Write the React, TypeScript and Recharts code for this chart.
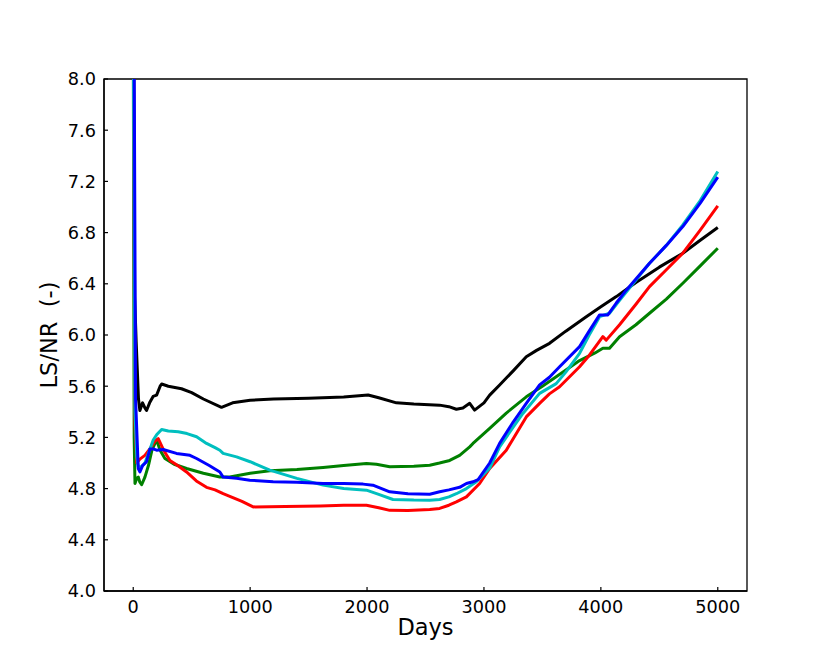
import React from 'react';
import { LineChart, Line, XAxis, YAxis, ReferenceArea, Label } from 'recharts';

const xTicks = [0, 1000, 2000, 3000, 4000, 5000];
const yTicks = [4.0, 4.4, 4.8, 5.2, 5.6, 6.0, 6.4, 6.8, 7.2, 7.6, 8.0];

const blackDays = [0, 12, 25, 45, 57, 80, 100, 114, 140, 170, 200, 230, 243, 300, 413, 500, 600, 755, 850, 1000, 1200, 1500, 1800, 2009, 2100, 2251, 2400, 2621, 2700, 2764, 2820, 2878, 2920, 3000, 3049, 3134, 3250, 3362, 3450, 3561, 3700, 3875, 4000, 4132, 4300, 4500, 4701, 4850, 5000];
const blackValues = [9, 6.3, 5.95, 5.5, 5.41, 5.47, 5.43, 5.41, 5.47, 5.52, 5.53, 5.6, 5.617, 5.6, 5.58, 5.55, 5.5, 5.435, 5.47, 5.49, 5.5, 5.505, 5.515, 5.531, 5.51, 5.47, 5.46, 5.452, 5.44, 5.42, 5.43, 5.466, 5.413, 5.47, 5.53, 5.61, 5.72, 5.83, 5.88, 5.935, 6.03, 6.143, 6.22, 6.3, 6.41, 6.53, 6.639, 6.74, 6.84];

const redDays = [0, 15, 30, 57, 100, 150, 185, 214, 260, 314, 380, 456, 540, 627, 700, 769, 826, 930, 1026, 1300, 1600, 1800, 1995, 2100, 2194, 2350, 2536, 2621, 2700, 2764, 2850, 2963, 3049, 3191, 3362, 3476, 3560, 3647, 3818, 3900, 4017, 4046, 4160, 4300, 4416, 4560, 4701, 4850, 5000];
const redValues = [8.5, 5.3, 5.0, 5.03, 5.06, 5.12, 5.17, 5.19, 5.1, 5.02, 4.98, 4.93, 4.86, 4.81, 4.79, 4.76, 4.74, 4.7, 4.657, 4.66, 4.665, 4.67, 4.67, 4.65, 4.63, 4.628, 4.636, 4.645, 4.67, 4.696, 4.735, 4.84, 4.957, 5.1, 5.36, 5.466, 5.54, 5.596, 5.752, 5.84, 5.987, 5.96, 6.08, 6.24, 6.378, 6.51, 6.639, 6.82, 7.009];

const greenDays = [0, 8, 15, 30, 43, 57, 72, 100, 130, 160, 200, 230, 271, 350, 456, 600, 741, 826, 1000, 1168, 1400, 1624, 1800, 1995, 2080, 2194, 2400, 2536, 2620, 2707, 2792, 2878, 2906, 3049, 3191, 3362, 3500, 3618, 3818, 3950, 4017, 4074, 4160, 4300, 4416, 4560, 4701, 4850, 5000];
const greenValues = [8.5, 5.2, 4.84, 4.88, 4.89, 4.85, 4.83, 4.89, 4.98, 5.1, 5.18, 5.1, 5.035, 4.99, 4.957, 4.92, 4.89, 4.89, 4.92, 4.94, 4.95, 4.965, 4.98, 4.997, 4.99, 4.97, 4.975, 4.983, 5.0, 5.02, 5.06, 5.126, 5.153, 5.27, 5.39, 5.517, 5.6, 5.674, 5.8, 5.86, 5.896, 5.896, 5.987, 6.08, 6.17, 6.28, 6.404, 6.54, 6.678];

const cyanDays = [0, 15, 30, 43, 70, 100, 140, 171, 200, 243, 300, 385, 460, 542, 627, 700, 741, 769, 884, 1000, 1168, 1400, 1624, 1800, 1995, 2100, 2222, 2400, 2536, 2621, 2700, 2764, 2850, 2935, 3049, 3134, 3250, 3333, 3476, 3618, 3700, 3818, 3900, 3989, 4074, 4160, 4300, 4416, 4560, 4701, 4850, 5000];
const cyanValues = [8.5, 5.4, 5.05, 4.97, 4.97, 5.0, 5.1, 5.18, 5.22, 5.262, 5.25, 5.244, 5.23, 5.205, 5.153, 5.12, 5.1, 5.075, 5.048, 5.01, 4.944, 4.88, 4.827, 4.8, 4.788, 4.755, 4.715, 4.71, 4.709, 4.715, 4.735, 4.76, 4.8, 4.853, 4.96, 5.126, 5.28, 5.387, 5.544, 5.62, 5.71, 5.857, 6.0, 6.143, 6.17, 6.27, 6.43, 6.56, 6.7, 6.86, 7.05, 7.277];

const blueDays = [0, 20, 43, 57, 80, 114, 143, 171, 200, 256, 370, 485, 542, 650, 741, 769, 884, 997, 1197, 1400, 1624, 1800, 1966, 2050, 2194, 2350, 2536, 2621, 2700, 2792, 2850, 2906, 2950, 3049, 3134, 3250, 3362, 3476, 3560, 3647, 3818, 3900, 3989, 4060, 4132, 4217, 4416, 4560, 4701, 4850, 5000];
const blueValues = [10, 5.5, 4.957, 4.93, 4.98, 5.01, 5.11, 5.11, 5.1, 5.105, 5.075, 5.06, 5.035, 4.98, 4.93, 4.89, 4.88, 4.866, 4.853, 4.85, 4.84, 4.84, 4.835, 4.827, 4.775, 4.76, 4.756, 4.775, 4.79, 4.81, 4.84, 4.853, 4.87, 5.0, 5.153, 5.32, 5.466, 5.61, 5.67, 5.752, 5.909, 6.03, 6.157, 6.157, 6.25, 6.35, 6.56, 6.7, 6.847, 7.03, 7.233];

const build = (days: number[], vals: number[]) => days.map((d, i) => ({ d, v: vals[i] }));

const series = [
  { name: 'black', color: '#000000', data: build(blackDays, blackValues) },
  { name: 'green', color: '#008000', data: build(greenDays, greenValues) },
  { name: 'red', color: '#ff0000', data: build(redDays, redValues) },
  { name: 'cyan', color: '#00bfbf', data: build(cyanDays, cyanValues) },
  { name: 'blue', color: '#0000ff', data: build(blueDays, blueValues) },
];

const FONT = 'DejaVu Sans';

const XTick = (props: any) => {
  const { x, y, payload } = props;
  return (
    <g>
      <line x1={x} x2={x} y1={y} y2={y - 4} stroke="#000" strokeWidth={1.2} />
      <text x={x} y={y + 22} textAnchor="middle" fontFamily={FONT} fontSize={17.7} fill="#000">
        {payload.value}
      </text>
    </g>
  );
};

const YTick = (props: any) => {
  const { x, y, payload } = props;
  return (
    <g>
      <line x1={x} x2={x + 4} y1={y} y2={y} stroke="#000" strokeWidth={1.2} />
      <text x={x - 8} y={y + 6.4} textAnchor="end" fontFamily={FONT} fontSize={17.7} fill="#000">
        {Number(payload.value).toFixed(1)}
      </text>
    </g>
  );
};

const XLabel = (props: any) => {
  const vb = props.viewBox;
  return (
    <text x={vb.x + vb.width / 2} y={vb.y + 44} textAnchor="middle" fontFamily={FONT} fontSize={22.5} fill="#000">
      Days
    </text>
  );
};

const YLabel = (props: any) => {
  const vb = props.viewBox;
  const cx = vb.x + vb.width - 55;
  const cy = vb.y + vb.height / 2;
  return (
    <text
      x={cx}
      y={cy}
      transform={`rotate(-90, ${cx}, ${cy})`}
      textAnchor="middle"
      dominantBaseline="central"
      fontFamily={FONT}
      fontSize={22.5}
      fill="#000"
      style={{ whiteSpace: 'pre' }}
    >
      {'LS/NR  (-)'}
    </text>
  );
};

export default function App() {
  return (
    <div style={{ position: 'absolute', left: 0, top: 0, width: 830, height: 664, background: '#fff' }}>
      <LineChart width={830} height={664} margin={{ top: 79, right: 83, bottom: 43, left: 44 }}>
        <XAxis
          type="number"
          dataKey="d"
          domain={[-250, 5250]}
          ticks={xTicks}
          allowDataOverflow
          height={30}
          tickSize={0}
          tickMargin={0}
          tickLine={false}
          axisLine={{ stroke: '#000', strokeWidth: 1.3 }}
          tick={<XTick />}
          interval={0}
        >
          <Label content={<XLabel />} />
        </XAxis>
        <YAxis
          type="number"
          dataKey="v"
          domain={[4, 8]}
          ticks={yTicks}
          allowDataOverflow
          width={60}
          tickSize={0}
          tickMargin={0}
          tickLine={false}
          axisLine={{ stroke: '#000', strokeWidth: 1.3 }}
          tick={<YTick />}
          interval={0}
        >
          <Label content={<YLabel />} />
        </YAxis>
        {series.map((s) => (
          <Line
            key={s.name}
            data={s.data}
            dataKey="v"
            type="linear"
            stroke={s.color}
            strokeWidth={3}
            dot={false}
            activeDot={false}
            isAnimationActive={false}
            strokeLinejoin="round"
          />
        ))}
        <ReferenceArea x1={-250} x2={5250} y1={4} y2={8} fill="none" fillOpacity={0} stroke="#000" strokeWidth={1.3} ifOverflow="visible" />
      </LineChart>
    </div>
  );
}
